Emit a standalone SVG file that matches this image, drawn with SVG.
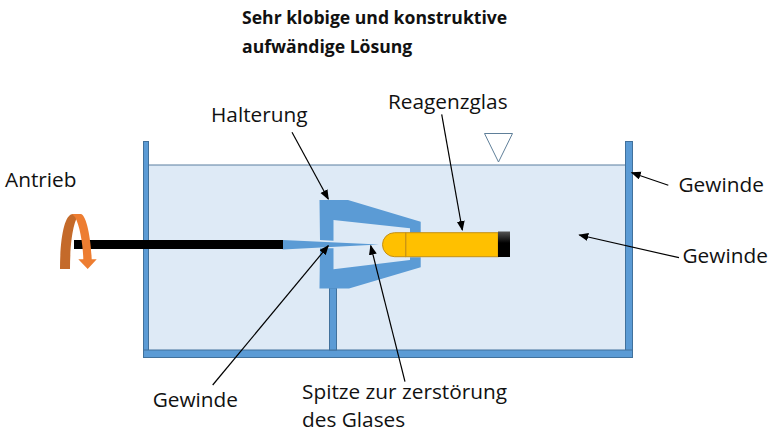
<svg xmlns="http://www.w3.org/2000/svg" width="769" height="441" viewBox="0 0 769 441">
<style>
text{font-family:"Open Sans","Noto Sans",sans-serif;font-size:20.800px;fill:#111}
.b{font-weight:700;font-size:17.600px}
.part{fill:#5b9bd5;stroke:#41719c;stroke-width:1}
.holder{fill:#5b9bd5}
.ar{stroke:#000;stroke-width:1.200;fill:none;marker-end:url(#a)}
</style>
<defs>
<marker id="a" markerWidth="12" markerHeight="10" refX="9" refY="4" orient="auto" markerUnits="userSpaceOnUse"><path d="M0 0L10 4L0 8Z" fill="#000"/></marker>
<linearGradient id="cap" x1="0" y1="0" x2="0" y2="1"><stop offset="0" stop-color="#555"/><stop offset=".45" stop-color="#000"/><stop offset="1" stop-color="#000"/></linearGradient>
</defs>
<rect width="769" height="441" fill="#fff"/>
<g id="tank">
<rect x="148" y="165" width="478" height="186" fill="#deeaf6"/>
<path d="M148 165H626" stroke="#5a7f9f" stroke-width="1.200" fill="none"/>
<rect class="part" x="143.500" y="141.500" width="5" height="209"/>
<rect class="part" x="625.500" y="141.500" width="7" height="209"/>
<rect class="part" x="143.500" y="350" width="489" height="7.500"/>
<rect class="part" x="329.500" y="288" width="7" height="62"/>
</g>
<g id="level"><path d="M484.500 133.500H512.500L498.500 162Z" fill="#fff" stroke="#5f7f99" stroke-width="1"/></g>
<g id="holder">
<path class="holder" d="M319.500 200H348L420.700 221.700V232.700H410V228.300L333.500 220V240.700L320 240Z"/>
<path class="holder" d="M319.500 288.500H349L420.700 267.300V257.300H410V260L333.500 269.300V248.300H320Z"/>
<path class="holder" d="M282.700 240L379 244.500L282.700 249.500Z"/>
</g>
<g id="shaft"><rect x="74" y="240" width="209" height="9" fill="#000"/></g>
<g id="tube">
<rect x="405.700" y="232.700" width="92.500" height="24" fill="#ffc000" stroke="#c48f14" stroke-width="1"/>
<path d="M405.700 232.700H394.500A12 12 0 0 0 394.500 256.700H405.700Z" fill="#ffc000" stroke="#c48f14" stroke-width="1"/>
<rect x="498" y="231.500" width="12" height="25.500" fill="url(#cap)"/>
</g>
<g id="rotation">
<path d="M60 269C60 240 64 214 73 214H80C74 218 70 240 70 269Z" fill="#c46a2a"/>
<path d="M72 214H81C87 216 91 240 91.700 259.300H96.700L87.700 269L78.300 259.300H83.300C83 245 80 226 75 217Z" fill="#ed7d31"/>
</g>
<g id="connectors">
<path class="ar" d="M292 132.300L328.300 199"/>
<path class="ar" d="M441.700 114.300L462.300 230"/>
<path class="ar" d="M668.300 185.300L631.700 172.700"/>
<path class="ar" d="M679 257.700L579.300 235"/>
<path class="ar" d="M212.700 385L328.300 245.700"/>
<path class="ar" d="M405 381.700L370.700 245.700"/>
</g>
<g id="labels">
<text class="b" x="242" y="24">Sehr klobige und konstruktive</text>
<text class="b" x="242" y="53">aufwändige Lösung</text>
<text x="388" y="108.500">Reagenzglas</text>
<text x="211" y="122.300">Halterung</text>
<text x="5" y="186.500">Antrieb</text>
<text x="678.500" y="191.700">Gewinde</text>
<text x="682.500" y="262.700">Gewinde</text>
<text x="152.700" y="406.700">Gewinde</text>
<text x="302" y="399.300">Spitze zur zerstörung</text>
<text x="302" y="427.300">des Glases</text>
</g>
</svg>
